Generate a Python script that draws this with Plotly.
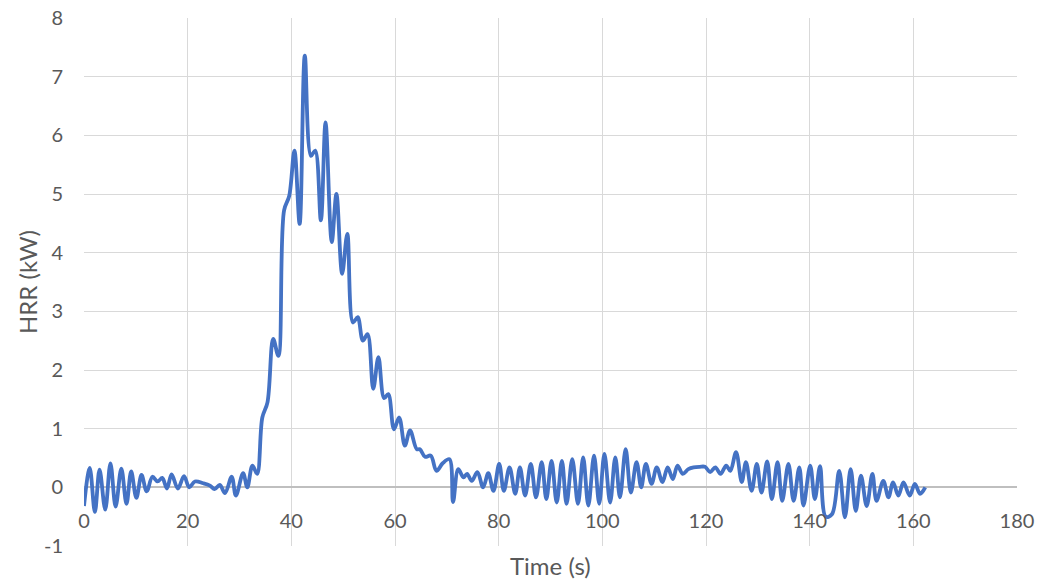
import plotly.graph_objects as go

# Data
time_s = [0.0, 1.1, 2.1, 3.0, 4.1, 5.1, 6.1, 7.2, 8.2, 9.1, 10.1, 11.1, 12.1, 13.2, 14.2, 15.1,
          16.0, 16.9, 18.1, 19.3, 20.3, 21.4, 23.0, 24.3, 25.2, 26.2, 27.2, 28.5, 29.3, 30.7,
          31.5, 32.5, 33.4, 34.4, 35.4, 36.5, 37.5, 38.6, 39.6, 40.6, 41.6, 42.6, 43.8, 44.6,
          45.7, 46.6, 47.8, 48.7, 49.8, 50.8, 51.9, 52.8, 53.8, 54.7, 55.8, 56.8, 57.9, 58.7,
          59.8, 60.8, 61.9, 62.9, 64.2, 64.8, 65.8, 66.9, 68.0, 69.2, 70.5, 71.2, 72.2, 73.2,
          73.9, 74.8, 75.9, 77.0, 78.0, 79.0, 80.1, 81.0, 82.1, 83.2, 84.1, 85.1, 86.2, 87.2,
          88.3, 89.2, 90.2, 91.2, 92.2, 93.1, 94.2, 95.3, 96.3, 97.3, 98.4, 99.4, 100.4, 101.5,
          102.5, 103.4, 104.5, 105.5, 106.6, 107.5, 108.4, 109.5, 110.5, 111.6, 112.6, 113.6,
          114.5, 115.5, 116.6, 117.6, 118.8, 119.8, 120.8, 121.8, 122.8, 123.9, 124.7, 125.8,
          126.9, 127.7, 128.8, 129.8, 130.7, 131.8, 132.7, 133.8, 134.7, 135.9, 136.9, 138.0,
          138.8, 140.1, 141.0, 142.0, 143.1, 144.3, 145.7, 146.8, 147.9, 148.9, 149.9, 151.0,
          152.1, 152.9, 154.2, 155.2, 156.1, 157.1, 158.1, 159.3, 160.3, 161.3, 162.3]
hrr_kw = [-0.32, 0.33, -0.42, 0.30, -0.38, 0.41, -0.33, 0.32, -0.28, 0.27, -0.18, 0.21, -0.07, 0.18, 0.10, 0.16,
          -0.02, 0.22, -0.02, 0.19, 0.00, 0.10, 0.07, 0.03, -0.03, 0.04, -0.10, 0.18, -0.14, 0.24,
          0.00, 0.37, 0.23, 1.19, 1.45, 2.53, 2.24, 4.72, 4.97, 5.74, 4.49, 7.36, 5.65, 5.74,
          4.55, 6.22, 4.18, 5.00, 3.64, 4.32, 2.81, 2.90, 2.50, 2.61, 1.68, 2.22, 1.52, 1.59,
          0.99, 1.19, 0.71, 0.97, 0.65, 0.65, 0.52, 0.54, 0.28, 0.41, 0.48, -0.25, 0.31, 0.17,
          0.23, 0.11, 0.26, 0.00, 0.24, -0.06, 0.40, -0.06, 0.34, -0.11, 0.34, -0.14, 0.40, -0.17,
          0.43, -0.20, 0.45, -0.26, 0.45, -0.28, 0.48, -0.28, 0.51, -0.31, 0.54, -0.28, 0.57, -0.26,
          0.51, -0.17, 0.65, -0.09, 0.43, 0.00, 0.40, 0.06, 0.34, 0.09, 0.34, 0.14,
          0.37, 0.23, 0.31, 0.34, 0.35, 0.35, 0.26, 0.34, 0.23, 0.37, 0.28, 0.60,
          0.09, 0.43, -0.06, 0.40, -0.09, 0.44, -0.20, 0.43, -0.23, 0.40, -0.23, 0.34,
          -0.31, 0.37, -0.20, 0.36, -0.50, -0.46, 0.28, -0.51, 0.31, -0.40, 0.20, -0.32,
          0.23, -0.23, 0.11, -0.17, 0.085, -0.14, 0.085, -0.14, 0.06, -0.11, 0.00]

x_ticks = [0, 20, 40, 60, 80, 100, 120, 140, 160, 180]
y_ticks = [-1, 0, 1, 2, 3, 4, 5, 6, 7, 8]
x_title = "Time (s)"
y_title = "HRR (kW)"

FONT = "Lato"
GRID = "#D9D9D9"
TXT = "#595959"

fig = go.Figure()
fig.add_trace(go.Scatter(
    x=time_s, y=hrr_kw, mode="lines",
    line=dict(color="#4472C4", width=3.8, shape="spline", smoothing=1.0),
    showlegend=False,
))

fig.update_layout(
    width=1042, height=587,
    margin=dict(l=84, r=25, t=18, b=41),
    paper_bgcolor="white", plot_bgcolor="white",
    font=dict(family=FONT, color=TXT),
    xaxis=dict(
        range=[0, 180], tickvals=x_ticks, ticktext=[str(v) for v in x_ticks],
        showgrid=True, gridcolor=GRID, gridwidth=1.3,
        zeroline=False, showline=False, automargin=False,
        anchor="free", position=1 / 9,
        ticks="outside", ticklen=16, tickcolor="rgba(0,0,0,0)",
        tickfont=dict(family=FONT, size=20, color=TXT),
    ),
    yaxis=dict(
        range=[-1, 8], tickvals=y_ticks, ticktext=[str(v) for v in y_ticks],
        showgrid=True, gridcolor=GRID, gridwidth=1.3,
        zeroline=True, zerolinecolor="#BFBFBF", zerolinewidth=1.5,
        showline=False, automargin=False,
        ticks="outside", ticklen=16, tickcolor="rgba(0,0,0,0)",
        tickfont=dict(family=FONT, size=20, color=TXT),
    ),
    annotations=[
        dict(text=x_title, xref="paper", yref="paper", x=0.5, y=0, yshift=-19,
             xanchor="center", yanchor="middle", showarrow=False,
             font=dict(family=FONT, size=24, color=TXT)),
        dict(text=y_title, xref="paper", yref="paper", x=0, xshift=-57, y=0.5,
             xanchor="center", yanchor="middle", textangle=-90, showarrow=False,
             font=dict(family=FONT, size=24, color=TXT)),
    ],
)

# remove the browser's default page margin so the figure fills the window
fig.write_html("out.html",
               config={"displayModeBar": False},
               post_script="document.body.style.margin='0px';document.body.style.overflow='hidden';")
